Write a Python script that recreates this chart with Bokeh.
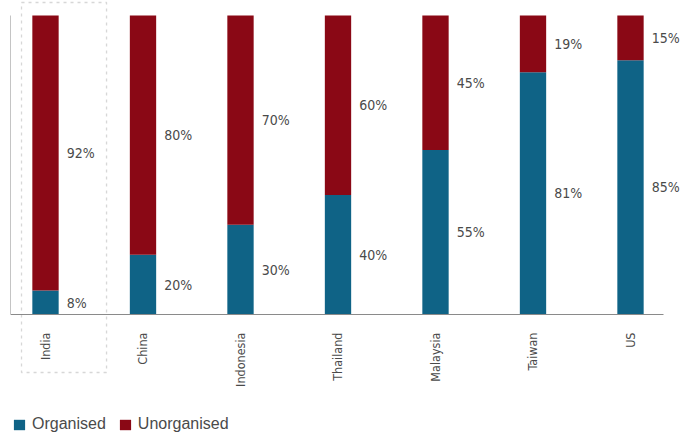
import math
from bokeh.plotting import figure
from bokeh.models import Range1d, FixedTicker, Legend, LegendItem, BoxAnnotation, ColumnDataSource
from bokeh.core.properties import value
from bokeh.embed import file_html
from bokeh.resources import INLINE

countries = ["India", "China", "Indonesia", "Thailand", "Malaysia", "Taiwan", "US"]
organised = [8, 20, 30, 40, 55, 81, 85]
unorganised = [92, 80, 70, 60, 45, 19, 15]
highlight = "India"

BLUE = "#0f6386"
RED = "#8a0815"
TEXT = "#4a4a4a"
FONT = "DejaVu Sans Condensed"
LFONT = "Liberation Sans"
BAR_W = 0.27

xs = list(range(len(countries)))
src = ColumnDataSource(dict(
    x=xs,
    org=organised,
    unorg=unorganised,
    total=[o + u for o, u in zip(organised, unorganised)],
    lx=[x + BAR_W / 2 for x in xs],
    ly_org=[o / 2 for o in organised],
    ly_unorg=[o + u / 2 for o, u in zip(organised, unorganised)],
    t_org=[f"{o}%" for o in organised],
    t_unorg=[f"{u}%" for u in unorganised],
))

PX = 97.5          # pixels per category
x0 = -35 / PX
p = figure(width=696, height=444, output_backend="svg", toolbar_location=None,
           x_range=Range1d(x0, x0 + 686 / PX), y_range=Range1d(-43.48, 105.02),
           min_border_left=10, min_border_right=0, min_border_top=0, min_border_bottom=0)
p.outline_line_color = None
p.grid.visible = False
p.background_fill_color = "white"

r_org = p.vbar(x="x", bottom=0, top="org", width=BAR_W, source=src,
               fill_color=BLUE, line_color=None)
r_unorg = p.vbar(x="x", bottom="org", top="total", width=BAR_W, source=src,
                 fill_color=RED, line_color=None)

for ycol, tcol in (("ly_org", "t_org"), ("ly_unorg", "t_unorg")):
    p.text(x="lx", y=ycol, text=tcol, source=src, x_offset=8,
           text_align="left", text_baseline="middle", text_color=TEXT,
           text_font=value(FONT), text_font_size="14px")

ya = p.yaxis[0]
ya.fixed_location = x0
ya.bounds = (0, 100)
ya.ticker = FixedTicker(ticks=[])
ya.major_tick_line_color = None
ya.minor_tick_line_color = None
ya.major_label_text_font_size = "0px"
ya.axis_line_color = "#8a8a8a"

xa = p.xaxis[0]
xa.fixed_location = 0
xa.ticker = FixedTicker(ticks=xs)
xa.major_label_overrides = {i: c for i, c in zip(xs, countries)}
xa.major_label_orientation = math.pi / 2
xa.major_tick_line_color = None
xa.minor_tick_line_color = None
xa.axis_line_color = "#8a8a8a"
xa.bounds = (x0, 6.34)
xa.major_label_standoff = 12
xa.major_label_text_font = FONT
xa.major_label_text_font_size = "12.5px"
xa.major_label_text_color = TEXT

hi = countries.index(highlight)
p.add_layout(BoxAnnotation(left=hi - 0.246, right=hi + 0.626, top=104.35, bottom=-19.4,
                           fill_alpha=0, fill_color=None, line_color="#7a7a7a",
                           line_dash="3 4", line_width=1.3))

legend = Legend(items=[LegendItem(label="Organised", renderers=[r_org]),
                       LegendItem(label="Unorganised", renderers=[r_unorg])],
                location=(2, 11), orientation="horizontal",
                glyph_width=14, glyph_height=13, label_height=13,
                label_standoff=6, spacing=12, padding=0, margin=0,
                label_text_font=LFONT, label_text_font_size="16px",
                label_text_color=TEXT, border_line_color=None,
                background_fill_alpha=0)
p.add_layout(legend, "center")

open("out.html", "w").write(file_html(p, INLINE))
